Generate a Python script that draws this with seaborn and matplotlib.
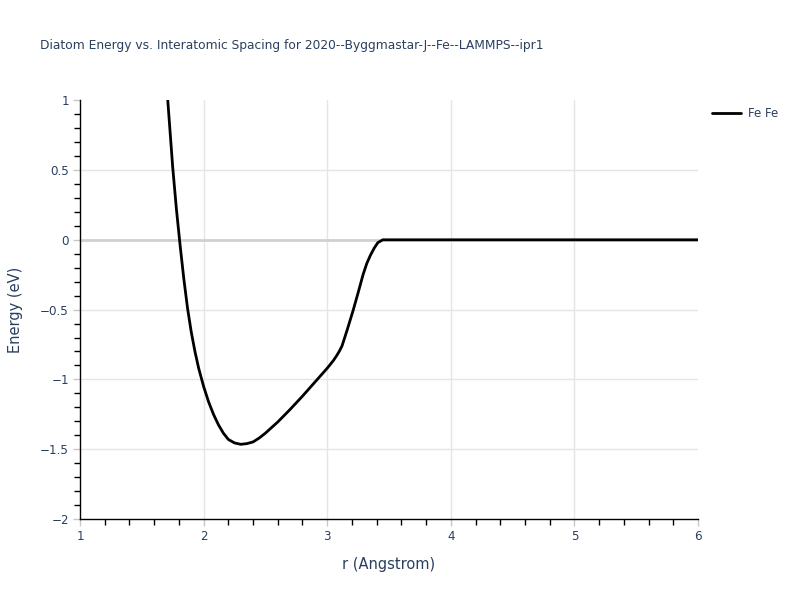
import matplotlib
matplotlib.use("Agg")
import matplotlib.pyplot as plt
import matplotlib.ticker as mticker
import pandas as pd
import seaborn as sns

# diatom energy curve
r_vals = [1.71, 1.75, 1.78, 1.81, 1.84, 1.87, 1.90, 1.93, 1.96, 2.00, 2.04,
          2.08, 2.12, 2.16, 2.20, 2.25, 2.30, 2.35, 2.40, 2.45, 2.50, 2.60,
          2.70, 2.80, 2.90, 3.00, 3.05, 3.08, 3.10, 3.12, 3.16, 3.21, 3.25,
          3.29, 3.32, 3.35, 3.38, 3.41, 3.45, 3.50, 4.00, 4.50, 5.00, 5.50,
          6.00]
energy = [1.0, 0.52, 0.22, -0.04, -0.28, -0.49, -0.66, -0.80, -0.92, -1.05,
          -1.16, -1.25, -1.325, -1.385, -1.43, -1.455, -1.465, -1.46, -1.448,
          -1.42, -1.385, -1.305, -1.215, -1.12, -1.02, -0.92, -0.865, -0.825,
          -0.795, -0.76, -0.65, -0.505, -0.38, -0.25, -0.17, -0.11, -0.06,
          -0.02, 0.0, 0.0, 0.0, 0.0, 0.0, 0.0, 0.0]
pair_name = "Fe Fe"
title = "Diatom Energy vs. Interatomic Spacing for 2020--Byggmastar-J--Fe--LAMMPS--ipr1"
x_ticks = [1, 2, 3, 4, 5, 6]
y_ticks = [1, 0.5, 0, -0.5, -1, -1.5, -2]

text_col = "#2a3f5f"

sns.set_style("white")
plt.rcParams['font.family'] = ['DejaVu Sans']

df = pd.DataFrame({"r": r_vals, "E": energy, "pair": pair_name})

fig = plt.figure(figsize=(8, 6), dpi=100)
ax = fig.add_axes([0.1, 0.135, 0.7725, 0.698])

sns.lineplot(data=df, x="r", y="E", hue="pair", palette=["black"],
             linewidth=2, ax=ax, legend=True, zorder=3)

ax.set_xlim(1, 6)
ax.set_ylim(-2, 1)

ax.set_xticks(x_ticks)
ax.set_yticks(y_ticks)
fmt = mticker.FuncFormatter(lambda v, p: ("%g" % v).replace("-", "\u2212"))
ax.xaxis.set_major_formatter(fmt)
ax.yaxis.set_major_formatter(fmt)
ax.xaxis.set_minor_locator(mticker.MultipleLocator(0.2))
ax.yaxis.set_minor_locator(mticker.MultipleLocator(0.1))

# grid only inside the plot area, zero line a bit heavier
for xv in x_ticks[1:-1]:
    ax.axvline(xv, color="#e5e5e5", linewidth=1, zorder=0)
for yv in y_ticks[1:-1]:
    if yv == 0:
        ax.axhline(yv, color="#d0d0d0", linewidth=2, zorder=1)
    else:
        ax.axhline(yv, color="#e5e5e5", linewidth=1, zorder=0)

for s in ["top", "right"]:
    ax.spines[s].set_visible(False)
for s in ["left", "bottom"]:
    ax.spines[s].set_color("black")
    ax.spines[s].set_linewidth(1)

ax.tick_params(which="major", direction="out", length=5, width=1,
               color="#c8c8c8", labelsize=8.6, labelcolor=text_col,
               bottom=True, left=True, pad=3)
ax.tick_params(which="minor", direction="out", length=4, width=1,
               color="black", bottom=True, left=True)

ax.set_xlabel("r (Angstrom)", fontsize=10.5, color=text_col, labelpad=10)
ax.set_ylabel("Energy (eV)", fontsize=10.5, color=text_col, labelpad=12)

fig.text(0.05, 0.925, title, fontsize=8.8, color=text_col, va="center")

leg = ax.legend(loc="upper left", bbox_to_anchor=(1.012, 1.0), frameon=False,
                fontsize=8.5, handlelength=2.4, handletextpad=0.6,
                borderaxespad=0.2)
for t in leg.get_texts():
    t.set_color(text_col)

fig.savefig("out.png", dpi=100)
